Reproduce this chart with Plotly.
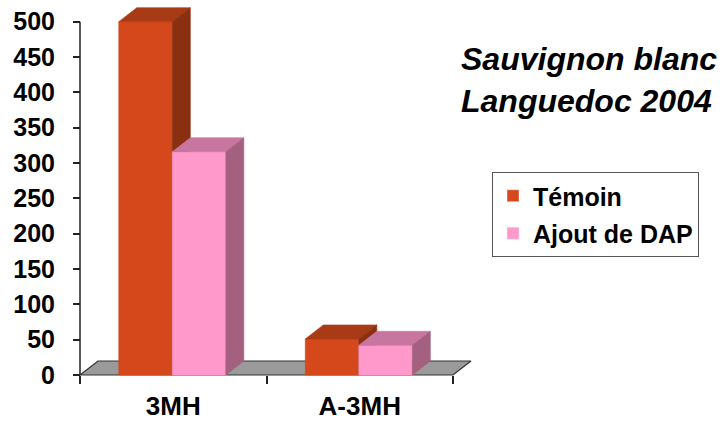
import plotly.graph_objects as go

# ---- data ----
categories = ["3MH", "A-3MH"]
series_names = ["Témoin", "Ajout de DAP"]
temoin = [500, 51]
ajout_dap = [316, 42]
y_ticks = [0, 50, 100, 150, 200, 250, 300, 350, 400, 450, 500]
title_lines = ["Sauvignon blanc", "Languedoc 2004"]

# ---- style ----
front_colors = ["#D5481B", "#FF99CC"]
top_colors = ["#A83B16", "#C8769F"]
side_colors = ["#8A2F0F", "#A3617F"]
FONT = "Liberation Sans, Arial, sans-serif"
BAR_W = 0.287
GROUP_START = -0.292
DX = 0.0965   # depth in x units
DY = 19.8     # depth in y units

PX_PER_X = 186.5
PX_PER_Y = 353.3 / 500
L, R, T, B = 76, 230, 0, 44
W = 720 - L - R
H = 422 - T - B
x_min = -(80 - L) / PX_PER_X
x_range = [x_min, x_min + W / PX_PER_X]
y_min = -(H - 375) / PX_PER_Y
y_range = [y_min, y_min + H / PX_PER_Y]

n = len(categories)
series = [temoin, ajout_dap]

fig = go.Figure()

# floor
fig.add_trace(go.Scatter(
    x=[0, n, n + DX, DX, 0], y=[0, 0, DY, DY, 0],
    mode="lines", fill="toself", fillcolor="#9A9A9A",
    line=dict(color="#333333", width=1.2), hoverinfo="skip", showlegend=False))

def poly(xs, ys, color):
    fig.add_trace(go.Scatter(
        x=xs + [xs[0]], y=ys + [ys[0]], mode="lines", fill="toself",
        fillcolor=color, line=dict(color=color, width=0.6),
        hoverinfo="skip", showlegend=False))

for i in range(n):
    c = i + 0.5
    for j, vals in enumerate(series):
        v = vals[i]
        x0 = c + GROUP_START + j * BAR_W
        x1 = x0 + BAR_W
        poly([x0, x1, x1, x0], [0, 0, v, v], front_colors[j])
        poly([x0, x1, x1 + DX, x0 + DX], [v, v, v + DY, v + DY], top_colors[j])
        poly([x1, x1 + DX, x1 + DX, x1], [0, DY, v + DY, v], side_colors[j])

# y axis line
fig.add_trace(go.Scatter(x=[0, 0], y=[0, y_ticks[-1]], mode="lines",
                         line=dict(color="#222222", width=1.5),
                         hoverinfo="skip", showlegend=False))

# legend entries
for j, name in enumerate(series_names):
    fig.add_trace(go.Bar(x=[None], y=[None], name="<b>" + name + "</b>",
                         marker_color=front_colors[j], legendgroup=name))

fig.update_layout(
    width=720, height=422,
    margin=dict(l=L, r=R, t=T, b=B),
    paper_bgcolor="white", plot_bgcolor="white",
    font=dict(family=FONT, color="black"),
    showlegend=True,
    xaxis=dict(type="linear", range=x_range, domain=[0, 1], anchor="free",
               position=3 / H, tickmode="array",
               tickvals=[i + 0.5 for i in range(n)],
               ticktext=["<b>" + c + "</b>" for c in categories],
               ticks="", showline=False, showgrid=False, zeroline=False,
               tickfont=dict(family=FONT, size=26, weight="bold", color="black"),
               ticklabelstandoff=13,
               minor=dict(tickmode="array", tickvals=list(range(n + 1)),
                          ticks="outside", ticklen=8, tickwidth=1.5,
                          tickcolor="#222222", showgrid=False),
               automargin=False, fixedrange=True),
    yaxis=dict(range=y_range, domain=[0, 1], anchor="free", position=4 / W,
               tickmode="array", tickvals=y_ticks,
               ticktext=["<b>%d</b>" % t for t in y_ticks],
               ticks="outside", ticklen=7, tickwidth=1.5, tickcolor="#222222",
               showline=False, showgrid=False, zeroline=False,
               tickfont=dict(family=FONT, size=25, weight="bold", color="black"),
               ticklabelstandoff=13, automargin=False, fixedrange=True),
    legend=dict(x=(492 - L) / W, xanchor="left", y=(H - 172) / H, yanchor="top",
                bordercolor="#555555", borderwidth=1, bgcolor="white",
                font=dict(family=FONT, size=25, weight="bold", color="black"),
                tracegroupgap=2, traceorder="grouped"),
    annotations=[dict(
        text="<br>".join("<b><i>" + t + "</i></b>" for t in title_lines),
        x=(459 - L) / W, y=(H - 39) / H,
        xref="paper", yref="paper", xanchor="left", yanchor="top",
        align="left", showarrow=False,
        font=dict(family=FONT, size=32, weight="bold", style="italic", color="black"))],
)

fig.write_html("out.html")
